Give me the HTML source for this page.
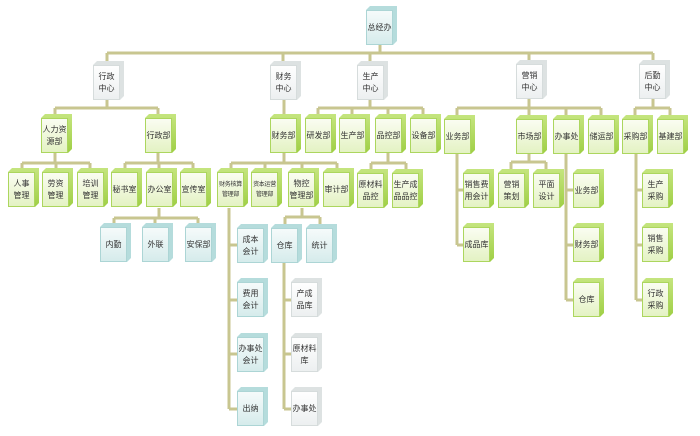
<!DOCTYPE html>
<html><head><meta charset="utf-8">
<style>
html,body{margin:0;padding:0;background:#fff;}
body{width:700px;height:436px;position:relative;overflow:hidden;font-family:"Liberation Sans","Noto Sans CJK SC",sans-serif;}
svg{position:absolute;left:0;top:0;}
.b{position:absolute;width:27px;height:35px;display:flex;align-items:center;justify-content:center;text-align:center;font-size:8px;line-height:12px;color:#333;white-space:nowrap;}
.b::before{content:"";position:absolute;left:0;top:-4px;width:31px;height:39px;clip-path:polygon(0 4px,4px 0,31px 0,31px 35px,27px 39px,27px 4px);}
.g{background:linear-gradient(to bottom,#fbfdf3,#e3f2c2);box-shadow:inset 0 0 0 1px #acd65e;}
.g::before{background:linear-gradient(to bottom,#c5e57f,#9fcf45);}
.t{background:linear-gradient(to bottom,#f6fbfb,#d5ebeb);box-shadow:inset 0 0 0 1px #acd5d5;}
.t::before{background:#b5dcdc;}
.w{background:linear-gradient(to bottom,#ffffff,#eceff0);box-shadow:inset 0 0 0 1px #d6dcdc;}
.w::before{background:#dde2e2;}
.s{font-size:6px;line-height:10px;letter-spacing:-0.3px;}
</style></head><body>
<svg width="700" height="436" fill="none" stroke="#c8c690" stroke-width="3">
<path d="M380 44V53M107 53H653M107 53V65M283 53V65M370 53V65M529 53V64M653 53V64"/>
<path d="M107 99V108M55 108H158M55 108V118M158 108V118"/>
<path d="M55 153V163M22 163H90M22 163V172M56 163V172M90 163V172"/>
<path d="M158 153V163M125 163H193M125 163V172M159 163V172M193 163V172"/>
<path d="M159 208V218M114 218H198M114 218V227M155 218V227M198 218V227"/>
<path d="M284 99V118"/>
<path d="M284 153V163M231 163H337M231 163V172M265 163V172M302 163V172M337 163V172"/>
<path d="M370 99V108M318 108H423M318 108V118M352 108V118M388 108V118M423 108V118"/>
<path d="M388 153V163M371 163H406M371 163V173M406 163V173"/>
<path d="M229 208V409M229 245H237M229 300H237M229 354H237M229 409H237"/>
<path d="M302 208V217M285 217H320M285 217V228M320 217V228"/>
<path d="M284 262V409M284 300H291M284 354H291M284 409H291"/>
<path d="M529 98V108M457 108H601M457 108V119M529 108V119M566 108V119M601 108V119M653 98V108M635 108H670M635 108V119M670 108V119"/>
<path d="M457 154V245M457 190H463M457 245H463"/>
<path d="M529 154V162M511 162H546M511 162V173M546 162V173"/>
<path d="M566 154V300M566 190H573M566 245H573M566 300H573"/>
<path d="M636 154V300M636 190H642M636 245H642M636 300H642"/>
</svg>

<div class="b t" style="left:366px;top:10px">总经办</div>
<div class="b w" style="left:93px;top:65px">行政<br>中心</div>
<div class="b w" style="left:270px;top:65px">财务<br>中心</div>
<div class="b w" style="left:357px;top:65px">生产<br>中心</div>
<div class="b w" style="left:516px;top:64px">营销<br>中心</div>
<div class="b w" style="left:639px;top:64px">后勤<br>中心</div>

<div class="b g" style="left:41px;top:118px">人力资<br>源部</div>
<div class="b g" style="left:145px;top:118px">行政部</div>
<div class="b g" style="left:270px;top:118px">财务部</div>
<div class="b g" style="left:305px;top:118px">研发部</div>
<div class="b g" style="left:339px;top:118px">生产部</div>
<div class="b g" style="left:375px;top:118px">品控部</div>
<div class="b g" style="left:410px;top:118px">设备部</div>
<div class="b g" style="left:444px;top:119px">业务部</div>
<div class="b g" style="left:516px;top:119px">市场部</div>
<div class="b g" style="left:553px;top:119px">办事处</div>
<div class="b g" style="left:588px;top:119px">储运部</div>
<div class="b g" style="left:622px;top:119px">采购部</div>
<div class="b g" style="left:657px;top:119px">基建部</div>

<div class="b g" style="left:8px;top:172px">人事<br>管理</div>
<div class="b g" style="left:42px;top:172px">劳资<br>管理</div>
<div class="b g" style="left:77px;top:172px">培训<br>管理</div>
<div class="b g" style="left:111px;top:172px">秘书室</div>
<div class="b g" style="left:146px;top:172px">办公室</div>
<div class="b g" style="left:180px;top:172px">宣传室</div>
<div class="b g s" style="left:217px;top:172px">财务核算<br>管理部</div>
<div class="b g s" style="left:251px;top:172px">资本运营<br>管理部</div>
<div class="b g" style="left:288px;top:172px">物控<br>管理部</div>
<div class="b g" style="left:323px;top:172px">审计部</div>
<div class="b g" style="left:357px;top:173px">原材料<br>品控</div>
<div class="b g" style="left:392px;top:173px">生产成<br>品品控</div>
<div class="b g" style="left:463px;top:173px">销售费<br>用会计</div>
<div class="b g" style="left:463px;top:227px">成品库</div>
<div class="b g" style="left:498px;top:173px">营销<br>策划</div>
<div class="b g" style="left:533px;top:173px">平面<br>设计</div>
<div class="b g" style="left:573px;top:173px">业务部</div>
<div class="b g" style="left:573px;top:227px">财务部</div>
<div class="b g" style="left:573px;top:282px">仓库</div>
<div class="b g" style="left:642px;top:173px">生产<br>采购</div>
<div class="b g" style="left:642px;top:227px">销售<br>采购</div>
<div class="b g" style="left:642px;top:282px">行政<br>采购</div>

<div class="b t" style="left:100px;top:227px">内勤</div>
<div class="b t" style="left:142px;top:227px">外联</div>
<div class="b t" style="left:185px;top:227px">安保部</div>
<div class="b t" style="left:237px;top:228px">成本<br>会计</div>
<div class="b t" style="left:237px;top:282px">费用<br>会计</div>
<div class="b t" style="left:237px;top:337px">办事处<br>会计</div>
<div class="b t" style="left:237px;top:391px">出纳</div>
<div class="b t" style="left:271px;top:228px">仓库</div>
<div class="b t" style="left:306px;top:228px">统计</div>

<div class="b w" style="left:291px;top:282px">产成<br>品库</div>
<div class="b w" style="left:291px;top:337px">原材料<br>库</div>
<div class="b w" style="left:291px;top:391px">办事处</div>
</body></html>
